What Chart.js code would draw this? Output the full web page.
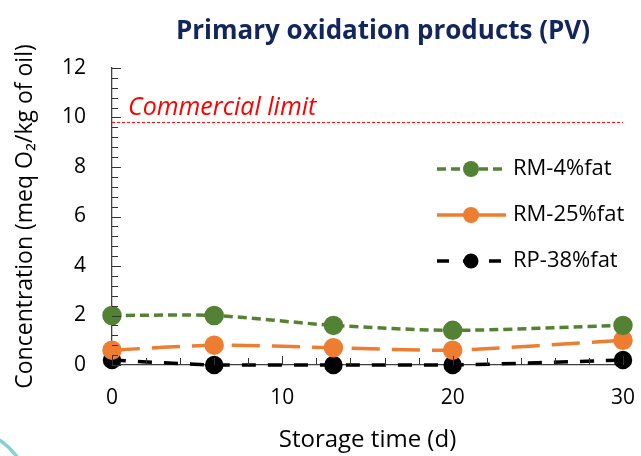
<!DOCTYPE html>
<html lang="en">
<head>
    <meta charset="UTF-8">
    <title>Primary oxidation products (PV)</title>
    <script src="https://cdn.jsdelivr.net/npm/chart.js"></script>
    <style>
        html, body { margin: 0; padding: 0; background: #fff; }
    </style>
</head>
<body>
    <canvas id="pvChart" width="641" height="456"></canvas>
    <script>
// data
const storageDays = [0, 6, 13, 20, 30];
const rm4Fat = [2.0, 2.0, 1.6, 1.4, 1.6];
const rm25Fat = [0.6, 0.8, 0.7, 0.6, 1.0];
const rp38Fat = [0.2, 0.0, 0.0, 0.0, 0.2];
const seriesNames = ['RM-4%fat', 'RM-25%fat', 'RP-38%fat'];
const commercialLimit = 9.8;
const yTicks = [0, 2, 4, 6, 8, 10, 12];
const xTicks = [0, 10, 20, 30];

const FONT = "'Open Sans', 'Liberation Sans', sans-serif";

function toPoints(xs, ys) {
  return xs.map((x, i) => ({ x: x, y: ys[i] }));
}

// inward ticks, title, limit label, legend with line + marker
const decorPlugin = {
  id: 'decor',
  beforeDraw(chart) {
    const ctx = chart.ctx;
    ctx.save();
    // slide decoration in the corner
    ctx.strokeStyle = '#86d2d2';
    ctx.lineWidth = 3.5;
    ctx.beginPath();
    ctx.moveTo(-2, 439);
    ctx.quadraticCurveTo(9, 446, 18, 458);
    ctx.stroke();
    ctx.restore();
  },
  afterDraw(chart) {
    const ctx = chart.ctx;
    const area = chart.chartArea;
    const xs = chart.scales.x;
    const ys = chart.scales.y;
    ctx.save();

    // y ticks, minor every 0.4
    ctx.strokeStyle = '#333';
    ctx.lineWidth = 1;
    for (let k = 0; k <= 30; k++) {
      const v = k * 0.4;
      const py = Math.round(ys.getPixelForValue(v)) + 0.5;
      const len = (k % 5 === 0) ? 9 : 6;
      ctx.beginPath();
      ctx.moveTo(area.left, py);
      ctx.lineTo(area.left + len, py);
      ctx.stroke();
    }
    // x ticks, minor every 2
    for (let v = 0; v <= 30; v += 2) {
      const px = Math.round(xs.getPixelForValue(v)) + 0.5;
      const len = (v % 10 === 0) ? 9 : 7;
      ctx.beginPath();
      ctx.moveTo(px, area.bottom);
      ctx.lineTo(px, area.bottom - len);
      ctx.stroke();
    }

    // title
    ctx.fillStyle = '#13265c';
    ctx.font = 'bold 26px ' + FONT;
    ctx.textAlign = 'center';
    ctx.textBaseline = 'middle';
    ctx.fillText('Primary oxidation products (PV)', 383, 32);

    // commercial limit label
    ctx.fillStyle = '#ff0000';
    ctx.font = 'italic 25px ' + FONT;
    ctx.textAlign = 'left';
    ctx.textBaseline = 'alphabetic';
    ctx.fillText('Commercial limit', area.left + 16, ys.getPixelForValue(commercialLimit) - 7);

    // legend
    const legendY = [169, 215, 261];
    chart.data.datasets.forEach((ds, i) => {
      if (i >= seriesNames.length) return;
      const y = legendY[i];
      ctx.strokeStyle = ds.borderColor;
      ctx.lineWidth = ds.borderWidth;
      ctx.setLineDash(ds.legendDash || ds.borderDash || []);
      ctx.beginPath();
      ctx.moveTo(437, y);
      ctx.lineTo(506, y);
      ctx.stroke();
      ctx.setLineDash([]);
      ctx.fillStyle = ds.pointBackgroundColor;
      ctx.beginPath();
      ctx.arc(471, y, ds.pointRadius, 0, Math.PI * 2);
      ctx.fill();
      ctx.fillStyle = '#000';
      ctx.font = '22px ' + FONT;
      ctx.textBaseline = 'middle';
      ctx.fillText(seriesNames[i], 513, y);
    });
    ctx.restore();
  }
};

const ctx = document.getElementById('pvChart');
new Chart(ctx, {
  type: 'line',
  data: {
    datasets: [
      {
        label: seriesNames[0],
        data: toPoints(storageDays, rm4Fat),
        borderColor: '#548235',
        pointBackgroundColor: '#548235',
        pointBorderColor: '#548235',
        borderWidth: 3.5,
        borderDash: [9, 5],
        pointRadius: 8,
        tension: 0.25,
        clip: false
      },
      {
        label: seriesNames[1],
        data: toPoints(storageDays, rm25Fat),
        borderColor: '#ed7d31',
        pointBackgroundColor: '#ed7d31',
        pointBorderColor: '#ed7d31',
        borderWidth: 3.5,
        borderDash: [28, 12],
        legendDash: [],
        pointRadius: 8,
        tension: 0.25,
        clip: false
      },
      {
        label: seriesNames[2],
        data: toPoints(storageDays, rp38Fat),
        borderColor: '#000000',
        pointBackgroundColor: '#000000',
        pointBorderColor: '#000000',
        borderWidth: 3.5,
        borderDash: [14, 12],
        legendDash: [12, 14],
        pointRadius: 7.5,
        tension: 0.25,
        clip: false
      },
      {
        label: 'Commercial limit',
        data: toPoints([xTicks[0], xTicks[xTicks.length - 1]], [commercialLimit, commercialLimit]),
        borderColor: '#ff0000',
        borderWidth: 1,
        borderDash: [3, 2],
        pointRadius: 0,
        tension: 0
      }
    ]
  },
  options: {
    responsive: false,
    animation: false,
    layout: { padding: { left: 0, right: 18, top: 68, bottom: 0 } },
    plugins: {
      legend: { display: false },
      title: { display: false },
      tooltip: { enabled: false }
    },
    scales: {
      x: {
        type: 'linear',
        min: xTicks[0],
        max: xTicks[xTicks.length - 1],
        afterBuildTicks: (scale) => { scale.ticks = xTicks.map(v => ({ value: v })); },
        grid: { display: false, drawTicks: false },
        border: { display: true, color: '#404040', width: 1.3 },
        ticks: { color: '#000', font: { family: FONT, size: 21 }, padding: 20, maxRotation: 0 },
        title: {
          display: true,
          text: 'Storage time (d)',
          color: '#000',
          font: { family: FONT, size: 24 },
          padding: { top: 0, bottom: 1 }
        },
        afterFit: (scale) => {
          scale.height = 91;
          scale.paddingLeft = 0;
          scale.paddingRight = 0;
        }
      },
      y: {
        min: yTicks[0],
        max: yTicks[yTicks.length - 1],
        afterBuildTicks: (scale) => { scale.ticks = yTicks.map(v => ({ value: v })); },
        grid: { display: false, drawTicks: false },
        border: { display: true, color: '#404040', width: 1.3 },
        ticks: { color: '#000', font: { family: FONT, size: 21 }, padding: 26 },
        title: {
          display: true,
          text: 'Concentration (meq O\u2082/kg of oil)',
          color: '#000',
          font: { family: FONT, size: 23 },
          padding: { top: 12, bottom: 0 }
        },
        afterFit: (scale) => {
          scale.width = 112;
          scale.paddingTop = 0;
          scale.paddingBottom = 0;
        }
      }
    }
  },
  plugins: [decorPlugin]
});
    </script>
</body>
</html>
